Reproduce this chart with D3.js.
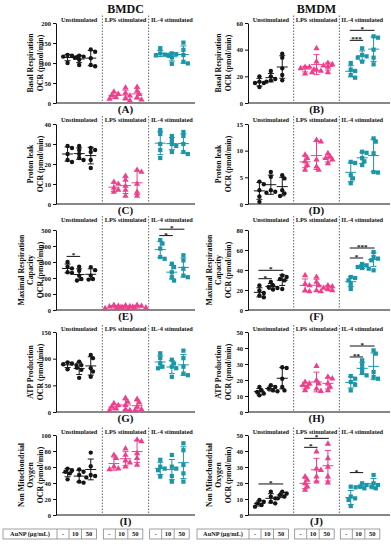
<!DOCTYPE html>
<html><head><meta charset="utf-8">
<script src="https://cdn.jsdelivr.net/npm/d3@7"></script>
<style>
body{margin:0;background:#fff}
svg text{font-family:"Liberation Serif","Times New Roman",serif;font-weight:bold;fill:#111}
</style>
</head><body>
<svg id="c" width="391" height="550"></svg>
<script>
// ---------- data ----------
const groups = ["Unstimulated", "LPS stimulated", "IL-4 stimulated"];
const doses = ["-", "10", "50"];
const titles = ["BMDC", "BMDM"];
const tableLabel = "AuNP (\u00b5g/mL)";

// [group][dose] -> replicate values
const basalBMDC = [
  [[120,118,116,114,100],[118,116,113,108,95],[134,128,112,95,92]],
  [[28,22,19,14,10],[38,25,18,12,6],[40,30,22,14,8]],
  [[137,124,121,119,118],[124,122,120,114,98],[151,133,120,103,99]]
];
const basalBMDM = [
  [[20,16,15,15,12],[24,20,18,17,16],[37,34,26,21,17]],
  [[27,27,26,25,22],[41,31,25,24,23],[30,29,28,27,23]],
  [[30,25,24,21,19],[41,36,35,34,31],[50,49,40,34,29]]
];
const protonBMDC = [
  [[29,28,25,22,21],[29,27,25,23,22],[28,27,26,22,18]],
  [[11,10,8,7,6],[14,12,9,7,4],[17,16,10,6,4]],
  [[37,35,30,27,23],[34,32,30,29,26],[36,34,30,26,25]]
];
const protonBMDM = [
  [[4.2,3.7,2.6,1.4,0.4],[6,5.1,2.6,2.3,2.1],[5.4,4.8,2.6,2,1.5]],
  [[9.2,8.6,8,7.3,6.4],[12,11.7,8.3,7,6.4],[9.5,8.9,8.6,8.3,7.6]],
  [[7.9,7.7,5.4,4.8,3.9],[9.8,9.6,8.6,8,7.3],[12.3,11.7,9.5,6,5.9]]
];
const maxBMDC = [
  [[300,270,260,236,232],[270,245,215,194,184],[268,249,215,194,190]],
  [[30,25,21,15,10],[28,22,18,14,10],[30,25,20,15,10]],
  [[437,415,384,331,320],[289,268,236,205,184],[342,310,258,215,205]]
];
const maxBMDM = [
  [[24.5,19.5,17,14.5,12.8],[28,24.5,23,22,20.5],[34.6,33,31,29.6,21]],
  [[34.6,26,24.5,19.5,18.5],[33,28,24.5,19.5,18.5],[24.5,23.5,22,20.5,19.5]],
  [[33,32,29.6,26,21],[46,44.7,43,42,41.3],[58,53,51.4,49.7,39.7]]
];
const atpBMDC = [
  [[93,91,89.5,88,80],[94.5,88,83,79,64],[107,101,82,76,66]],
  [[16,12.6,9.5,6.3,3],[26,19,12.6,5,3],[24,17.6,9.5,5,3]],
  [[110,101,91,85,82],[98,91,85,82,66],[115,101,85,72,69]]
];
const atpBMDM = [
  [[15.6,13.5,12.5,11.5,10.4],[16.7,15.6,14.6,13.5,13],[28,27.5,20.8,15.6,13.5]],
  [[18.75,17.7,16.7,15.6,13.5],[28.7,19.8,17.7,14.6,13],[21.9,20.8,17.7,15.6,13.5]],
  [[22.5,20.8,18.75,17,13.5],[32.3,29.6,27,24.6,22.9],[38.5,36.5,25,21.9,20.8]]
];
const nonmitoBMDC = [
  [[58,56,54,52,44.6],[57,54,50,41.7,40.4],[78,61,50,48.75,47]],
  [[75,71,60.4,58,57],[83,75,68,65.4,60.4],[94,92,77,71,62.5]],
  [[69,60.4,58,56,48],[75,60.4,58,48.75,41.7],[89.6,81,62.5,52,41.7]]
];
const nonmitoBMDM = [
  [[9.4,8.3,7.3,6.25,5.2],[14.6,11.5,10.4,8.3,7.3],[14.6,13.5,12.5,11.5,10.4]],
  [[24,21.9,19.8,17.7,15.6],[39.6,29,28,24,20.8],[44.4,35.4,30,24,20.2]],
  [[17.7,11.5,10.4,9.4,5.6],[19.8,18.75,17.7,17.3,16.7],[25,19.8,18.75,17.7,16.7]]
];

// tick values
const ticksA = [0,50,100,150,200];
const ticksB = [0,20,40,60];
const ticksC = [0,10,20,30,40];
const ticksD = [0,5,10,15];
const ticksE = [0,100,200,300,400,500];
const ticksF = [0,20,40,60,80];
const ticksG = [0,50,100,150];
const ticksH = [0,10,20,30,40,50];
const ticksI = [0,20,40,60,80,100];
const ticksJ = [0,10,20,30,40,50];

// significance: group index, from dose, to dose, bar value, label
const sigB = [{g:2,a:0,b:1,v:47,t:"***"},{g:2,a:0,b:2,v:54.5,t:"*"}];
const sigE = [{g:0,a:0,b:1,v:335,t:"*"},{g:2,a:0,b:1,v:465,t:"*"},{g:2,a:0,b:2,v:505,t:"*"}];
const sigF = [{g:0,a:0,b:1,v:31.3,t:"*"},{g:0,a:0,b:2,v:39.7,t:"*"},{g:2,a:0,b:1,v:52,t:"*"},{g:2,a:0,b:2,v:62,t:"***"}];
const sigH = [{g:2,a:0,b:1,v:34.4,t:"**"},{g:2,a:0,b:2,v:41.25,t:"*"}];
const sigJ = [{g:0,a:0,b:2,v:19.4,t:"*"},{g:1,a:0,b:1,v:42.3,t:"*"},{g:1,a:0,b:2,v:47.9,t:"*"},{g:2,a:0,b:1,v:26.5,t:"*"}];

const labelsA = ["Basal Respiration","OCR (pmol/min)"];
const labelsC = ["Proton leak","OCR (pmol/min)"];
const labelsE = ["Maximal Respiration","Capacity","OCR (pmol/min)"];
const labelsG = ["ATP Production","OCR (pmol/min)"];
const labelsI = ["Non Mitochondrial","Oxygen","OCR (pmol/min)"];

// ---------- layout ----------
const colors = ["#151515", "#ef3f8c", "#1a96a8"];
const cols = [{x0:56, x1:195, lineEnd:195, labOff:16}, {x0:248, x1:385, lineEnd:390, labOff:20}];
const rowTop = [23, 124, 230, 332, 435];
const rowLabelGap = [1.5, 2, 8, 1, 1.5];
const plotH = 80;

const panels = [
  {col:0,row:0,data:basalBMDC,ticks:ticksA,labels:labelsA,letter:"(A)",sig:[]},
  {col:1,row:0,data:basalBMDM,ticks:ticksB,labels:labelsA,letter:"(B)",sig:sigB},
  {col:0,row:1,data:protonBMDC,ticks:ticksC,labels:labelsC,letter:"(C)",sig:[]},
  {col:1,row:1,data:protonBMDM,ticks:ticksD,labels:labelsC,letter:"(D)",sig:[]},
  {col:0,row:2,data:maxBMDC,ticks:ticksE,labels:labelsE,letter:"(E)",sig:sigE},
  {col:1,row:2,data:maxBMDM,ticks:ticksF,labels:labelsE,letter:"(F)",sig:sigF},
  {col:0,row:3,data:atpBMDC,ticks:ticksG,labels:labelsG,letter:"(G)",sig:[]},
  {col:1,row:3,data:atpBMDM,ticks:ticksH,labels:labelsG,letter:"(H)",sig:sigH},
  {col:0,row:4,data:nonmitoBMDC,ticks:ticksI,labels:labelsI,letter:"(I)",sig:[]},
  {col:1,row:4,data:nonmitoBMDM,ticks:ticksJ,labels:labelsI,letter:"(J)",sig:sigJ}
];

const svg = d3.select("#c");

// titles
titles.forEach((t,i) => {
  const c = cols[i];
  svg.append("text").attr("x",(c.x0+c.x1)/2).attr("y",12.5)
    .attr("text-anchor","middle").style("font-size","12px").text(t);
});

const sym = [d3.symbolCircle, d3.symbolTriangle, d3.symbolSquare];
const symSize = [15, 17, 18];

function swarm(vals, y, minDist, step) {
  const sorted = vals.map((v,i)=>({v,py:y(v)})).sort((a,b)=>a.py-b.py);
  const placed = [];
  sorted.forEach(p => {
    let off = 0;
    const cand = [0];
    for (let i=1;i<8;i++){cand.push(i*step);cand.push(-i*step);}
    for (const o of cand) {
      if (placed.every(q => Math.hypot(q.dx-o, q.py-p.py) >= minDist)) { off = o; break; }
    }
    p.dx = off; placed.push(p);
  });
  return placed;
}

panels.forEach(p => {
  const c = cols[p.col];
  const top = rowTop[p.row], bottom = top + plotH;
  const labY = top - rowLabelGap[p.row];
  const y = d3.scaleLinear().domain([0, p.ticks[p.ticks.length-1]]).range([bottom, top]);
  const xg = d3.scaleBand().domain(groups).range([c.x0, c.x1]);
  const xd = d3.scalePoint().domain(doses).range([0, xg.bandwidth()]).padding(1);
  const g = svg.append("g");

  // y axis
  const ya = g.append("g").attr("transform",`translate(${c.x0},0)`)
    .call(d3.axisLeft(y).tickValues(p.ticks).tickSize(3).tickSizeOuter(0).tickPadding(2).tickFormat(d3.format("d")));
  ya.attr("font-family",null).attr("font-size",null);
  ya.selectAll("text").style("font-size","6.5px");
  ya.selectAll("line,path").attr("stroke","#111");

  // x axis line
  g.append("line").attr("x1",c.x0).attr("x2",c.lineEnd).attr("y1",y(0)).attr("y2",y(0))
    .attr("stroke","#111").attr("stroke-width",1.2);

  // dashed separators
  groups.slice(1).forEach(gr => {
    g.append("line").attr("x1",xg(gr)).attr("x2",xg(gr)).attr("y1",labY-6).attr("y2",bottom)
      .attr("stroke","#666").attr("stroke-width",1).attr("stroke-dasharray","1.5,1.5");
  });

  // group labels
  groups.forEach(gr => {
    g.append("text").attr("x",xg(gr)+xg.bandwidth()/2).attr("y",labY)
      .attr("text-anchor","middle").style("font-size","6.3px").text(gr);
  });

  // y label
  const n = p.labels.length;
  const yc = (top+bottom)/2;
  p.labels.forEach((l,i) => {
    const x = c.x0 - c.labOff - (n-1-i)*9.5;
    g.append("text").attr("transform",`translate(${x},${yc}) rotate(-90)`)
      .attr("text-anchor","middle").attr("dy","0.35em").style("font-size","7.8px").text(l);
  });

  // panel letter
  g.append("text").attr("x",(c.x0+c.x1)/2).attr("y",bottom+10)
    .attr("text-anchor","middle").style("font-size","11px").text(p.letter);

  // data
  p.data.forEach((grp, gi) => {
    const col = colors[gi];
    grp.forEach((vals, di) => {
      const cx = xg(groups[gi]) + xd(doses[di]);
      const m = d3.mean(vals), sd = d3.deviation(vals);
      const pts = swarm(vals, y, 3.8, 2.2);
      g.selectAll(null).data(pts).join("path")
        .attr("d", d3.symbol().type(sym[gi]).size(symSize[gi]))
        .attr("transform", d => `translate(${cx+d.dx},${d.py})`)
        .attr("fill", col);
      const lo = Math.max(0, m-sd), hi = m+sd;
      const eb = g.append("g").attr("stroke",col).attr("stroke-width",1).attr("fill","none");
      eb.append("line").attr("x1",cx).attr("x2",cx).attr("y1",y(lo)).attr("y2",y(hi));
      eb.append("line").attr("x1",cx-3).attr("x2",cx+3).attr("y1",y(lo)).attr("y2",y(lo));
      eb.append("line").attr("x1",cx-3).attr("x2",cx+3).attr("y1",y(hi)).attr("y2",y(hi));
      eb.append("line").attr("x1",cx-5.5).attr("x2",cx+5.5).attr("y1",y(m)).attr("y2",y(m));
    });
  });

  // significance
  p.sig.forEach(s => {
    const xa = xg(groups[s.g]) + xd(doses[s.a]);
    const xb = xg(groups[s.g]) + xd(doses[s.b]);
    g.append("line").attr("x1",xa-1).attr("x2",xb+1).attr("y1",y(s.v)).attr("y2",y(s.v))
      .attr("stroke","#111").attr("stroke-width",1);
    g.append("text").attr("x",(xa+xb)/2).attr("y",y(s.v)+1)
      .attr("text-anchor","middle").style("font-size","7px").text(s.t);
  });

  // dose table under bottom row
  if (p.row === rowTop.length-1) {
    const ty = bottom + 14, th = 10;
    const widths = [12, 12.5, 15];
    const tg = svg.append("g");
    groups.forEach((gr, gi) => {
      const start = xg(gr) + 1;
      let x = start;
      const boxStart = gi === 0 ? (p.col === 0 ? 3 : c.x0 - 51) : start;
      const edges = [x];
      widths.forEach(w => { x += w; edges.push(x); });
      tg.append("rect").attr("x",boxStart).attr("y",ty).attr("width",x-boxStart).attr("height",th)
        .attr("fill","#fff").attr("stroke","#888").attr("stroke-width",0.8);
      edges.slice(0,3).forEach((e,k) => {
        if (k===0 && gi!==0) return;
        tg.append("line").attr("x1",e).attr("x2",e).attr("y1",ty).attr("y2",ty+th)
          .attr("stroke","#888").attr("stroke-width",0.8);
      });
      if (gi === 0) {
        tg.append("text").attr("x",(boxStart+start)/2).attr("y",ty+th/2).attr("dy","0.35em")
          .attr("text-anchor","middle").style("font-size","6.3px").text(tableLabel);
      }
      doses.forEach((d,k) => {
        tg.append("text").attr("x",(edges[k]+edges[k+1])/2).attr("y",ty+th/2).attr("dy","0.35em")
          .attr("text-anchor","middle").style("font-size","6.5px").text(d);
      });
    });
  }
});
</script>
</body></html>
